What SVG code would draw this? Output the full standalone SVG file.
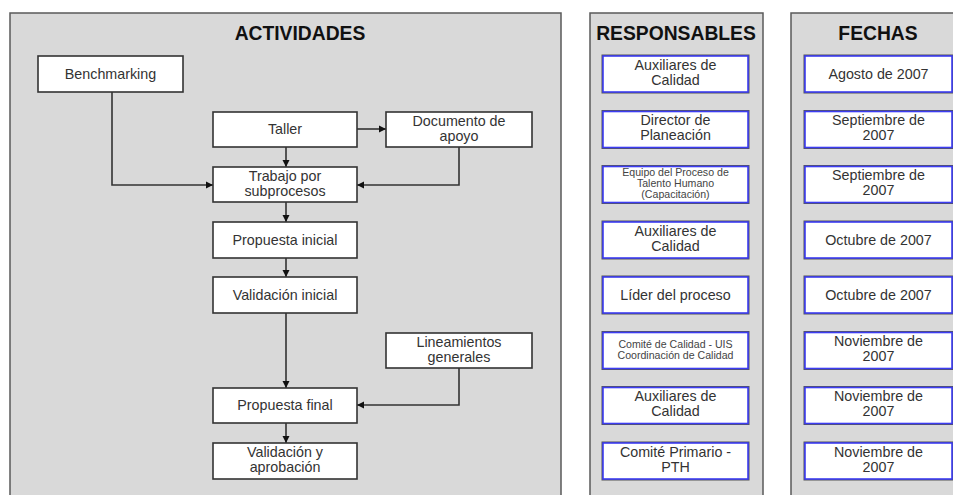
<svg xmlns="http://www.w3.org/2000/svg" width="953" height="495" viewBox="0 0 953 495">
  <style>
    .panel { fill: #d9d9d9; stroke: #5a5a5a; stroke-width: 1.5; }
    .title { font-family: "Liberation Sans", Arial, sans-serif; font-weight: bold; font-size: 19.3px; fill: #111; text-anchor: middle; }
    .box { fill: #ffffff; stroke: #333333; stroke-width: 1.6; }
    .bedge { fill: none; stroke: #555555; stroke-width: 3; }
    .bbox { fill: #ffffff; stroke: #3c3cf2; stroke-width: 1.6; }
    .t { font-family: "Liberation Sans", Arial, sans-serif; font-size: 14.3px; fill: #333; text-anchor: middle; }
    .tr { font-family: "Liberation Sans", Arial, sans-serif; font-size: 14.3px; fill: #333; text-anchor: middle; }
    .ts { font-family: "Liberation Sans", Arial, sans-serif; font-size: 10.6px; fill: #444; text-anchor: middle; }
    .conn { fill: none; stroke: #333333; stroke-width: 1.6; }
  </style>
  <defs>
    <marker id="arrow" viewBox="0 0 10 10" refX="10" refY="5" markerWidth="7" markerHeight="8" markerUnits="userSpaceOnUse" orient="auto">
      <path d="M0,0 L10,5 L0,10 z" fill="#111"/>
    </marker>
    <!-- framed box used in the two right-hand columns -->
    <g id="blueBox">
      <rect class="bedge" x="0" y="0" width="145" height="36"/>
      <rect class="bbox" x="0" y="0" width="145" height="36"/>
    </g>
    <g id="blueBoxWide">
      <rect class="bedge" x="0" y="0" width="147" height="36"/>
      <rect class="bbox" x="0" y="0" width="147" height="36"/>
    </g>
  </defs>

  <rect width="953" height="495" fill="#ffffff"/>

  <!-- column panels -->
  <g id="panels">
    <rect class="panel" x="10" y="13" width="551" height="500"/>
    <rect class="panel" x="590" y="13" width="173" height="500"/>
    <rect class="panel" x="791" y="13" width="180" height="500"/>
    <text class="title" x="300" y="40">ACTIVIDADES</text>
    <text class="title" x="676" y="40">RESPONSABLES</text>
    <text class="title" x="878" y="40">FECHAS</text>
  </g>

  <!-- connectors -->
  <g id="connectors">
    <path class="conn" d="M112,92 V185 H213" marker-end="url(#arrow)"/>
    <path class="conn" d="M286,147 V167" marker-end="url(#arrow)"/>
    <path class="conn" d="M357,129 H386" marker-end="url(#arrow)"/>
    <path class="conn" d="M459,147 V185 H357" marker-end="url(#arrow)"/>
    <path class="conn" d="M286,202 V222" marker-end="url(#arrow)"/>
    <path class="conn" d="M286,258 V277" marker-end="url(#arrow)"/>
    <path class="conn" d="M286,313 V388" marker-end="url(#arrow)"/>
    <path class="conn" d="M459,368 V405 H357" marker-end="url(#arrow)"/>
    <path class="conn" d="M286,423 V443" marker-end="url(#arrow)"/>
  </g>

  <!-- activities -->
  <g id="benchmarking">
    <rect class="box" x="38" y="56" width="145" height="36"/>
    <text class="t" x="110.5" y="79">Benchmarking</text>
  </g>
  <g id="taller">
    <rect class="box" x="213" y="112" width="144" height="35"/>
    <text class="t" x="285" y="134">Taller</text>
  </g>
  <g id="documento">
    <rect class="box" x="386" y="112" width="146" height="35"/>
    <text class="t" x="459" y="126">Documento de</text>
    <text class="t" x="459" y="141">apoyo</text>
  </g>
  <g id="trabajo">
    <rect class="box" x="213" y="167" width="144" height="35"/>
    <text class="t" x="285" y="181">Trabajo por</text>
    <text class="t" x="285" y="196">subprocesos</text>
  </g>
  <g id="propuesta-inicial">
    <rect class="box" x="213" y="222" width="144" height="36"/>
    <text class="t" x="285" y="245">Propuesta inicial</text>
  </g>
  <g id="validacion-inicial">
    <rect class="box" x="213" y="277" width="144" height="36"/>
    <text class="t" x="285" y="300">Validación inicial</text>
  </g>
  <g id="lineamientos">
    <rect class="box" x="386" y="333" width="146" height="35"/>
    <text class="t" x="459" y="347">Lineamientos</text>
    <text class="t" x="459" y="362">generales</text>
  </g>
  <g id="propuesta-final">
    <rect class="box" x="213" y="388" width="144" height="35"/>
    <text class="t" x="285" y="410">Propuesta final</text>
  </g>
  <g id="validacion-aprobacion">
    <rect class="box" x="213" y="443" width="144" height="36"/>
    <text class="t" x="285" y="457">Validación y</text>
    <text class="t" x="285" y="472">aprobación</text>
  </g>

  <!-- responsibles -->
  <g id="resp-1">
    <use href="#blueBox" x="603" y="56"/>
    <text class="tr" x="675.5" y="70">Auxiliares de</text>
    <text class="tr" x="675.5" y="85">Calidad</text>
  </g>
  <g id="resp-2">
    <use href="#blueBox" x="603" y="111.5"/>
    <text class="tr" x="675.5" y="125">Director de</text>
    <text class="tr" x="675.5" y="140">Planeación</text>
  </g>
  <g id="resp-3">
    <use href="#blueBox" x="603" y="166.5"/>
    <text class="ts" x="675.5" y="176">Equipo del Proceso de</text>
    <text class="ts" x="675.5" y="187">Talento Humano</text>
    <text class="ts" x="675.5" y="198">(Capacitación)</text>
  </g>
  <g id="resp-4">
    <use href="#blueBox" x="603" y="222"/>
    <text class="tr" x="675.5" y="236">Auxiliares de</text>
    <text class="tr" x="675.5" y="251">Calidad</text>
  </g>
  <g id="resp-5">
    <use href="#blueBox" x="603" y="277"/>
    <text class="tr" x="675.5" y="300">Líder del proceso</text>
  </g>
  <g id="resp-6">
    <use href="#blueBox" x="603" y="332.5"/>
    <text class="ts" x="675.5" y="348">Comité de Calidad - UIS</text>
    <text class="ts" x="675.5" y="359">Coordinación de Calidad</text>
  </g>
  <g id="resp-7">
    <use href="#blueBox" x="603" y="387.5"/>
    <text class="tr" x="675.5" y="401">Auxiliares de</text>
    <text class="tr" x="675.5" y="416">Calidad</text>
  </g>
  <g id="resp-8">
    <use href="#blueBox" x="603" y="443"/>
    <text class="tr" x="675.5" y="457">Comité Primario -</text>
    <text class="tr" x="675.5" y="472">PTH</text>
  </g>

  <!-- dates -->
  <g id="fecha-1">
    <use href="#blueBoxWide" x="805" y="56"/>
    <text class="tr" x="878.5" y="79">Agosto de 2007</text>
  </g>
  <g id="fecha-2">
    <use href="#blueBoxWide" x="805" y="111.5"/>
    <text class="tr" x="878.5" y="125">Septiembre de</text>
    <text class="tr" x="878.5" y="140">2007</text>
  </g>
  <g id="fecha-3">
    <use href="#blueBoxWide" x="805" y="166.5"/>
    <text class="tr" x="878.5" y="180">Septiembre de</text>
    <text class="tr" x="878.5" y="195">2007</text>
  </g>
  <g id="fecha-4">
    <use href="#blueBoxWide" x="805" y="222"/>
    <text class="tr" x="878.5" y="245">Octubre de 2007</text>
  </g>
  <g id="fecha-5">
    <use href="#blueBoxWide" x="805" y="277"/>
    <text class="tr" x="878.5" y="300">Octubre de 2007</text>
  </g>
  <g id="fecha-6">
    <use href="#blueBoxWide" x="805" y="332.5"/>
    <text class="tr" x="878.5" y="346">Noviembre de</text>
    <text class="tr" x="878.5" y="361">2007</text>
  </g>
  <g id="fecha-7">
    <use href="#blueBoxWide" x="805" y="387.5"/>
    <text class="tr" x="878.5" y="401">Noviembre de</text>
    <text class="tr" x="878.5" y="416">2007</text>
  </g>
  <g id="fecha-8">
    <use href="#blueBoxWide" x="805" y="443"/>
    <text class="tr" x="878.5" y="457">Noviembre de</text>
    <text class="tr" x="878.5" y="472">2007</text>
  </g>
</svg>
